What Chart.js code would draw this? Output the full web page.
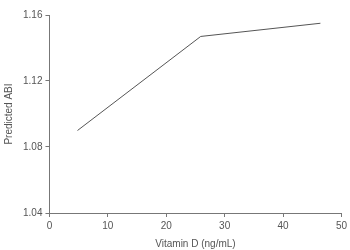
<!DOCTYPE html>
<html>
<head>
<meta charset="utf-8">
<script src="https://cdn.jsdelivr.net/npm/chart.js@4/dist/chart.umd.min.js"></script>
<style>
  html, body { margin: 0; padding: 0; background: #fff; }
  #wrap { width: 350px; height: 250px; }
</style>
</head>
<body>
<div id="wrap"><canvas id="abiChart"></canvas></div>
<script>
// vitamin D values along the fitted line and the predicted ABI at each
const vitaminD = [4.8, 25.9, 46.4];
const predictedABI = [1.090, 1.147, 1.155];
const xTicks = [0, 10, 20, 30, 40, 50];
const yTicks = [1.04, 1.08, 1.12, 1.16];

const axisGrey = '#777';
const textGrey = '#555';
const font = { family: 'Liberation Sans', size: 10 };

const points = vitaminD.map((v, i) => ({ x: v, y: predictedABI[i] }));

new Chart(document.getElementById('abiChart'), {
    type: 'scatter',
    data: {
        datasets: [{
            data: points,
            showLine: true,
            borderColor: '#555',
            borderWidth: 1,
            pointRadius: 0,
            fill: false
        }]
    },
    options: {
        responsive: true,
        maintainAspectRatio: false,
        animation: false,
        layout: { padding: { top: 15, right: 1, left: 3, bottom: 0 } },
        plugins: {
            legend: { display: false },
            tooltip: { enabled: false }
        },
        scales: {
            x: {
                min: 0,
                max: 50,
                afterBuildTicks: axis => { axis.ticks = xTicks.map(v => ({ value: v })); },
                grid: { drawOnChartArea: false, color: axisGrey, tickLength: 4 },
                border: { color: axisGrey, width: 1 },
                ticks: { color: textGrey, font: font, padding: 3, maxRotation: 0 },
                title: { display: true, text: 'Vitamin D (ng/mL)', color: textGrey, font: font, padding: { top: 3, bottom: 0 } }
            },
            y: {
                min: 1.04,
                max: 1.16,
                afterBuildTicks: axis => { axis.ticks = yTicks.map(v => ({ value: v })); },
                grid: { drawOnChartArea: false, color: axisGrey, tickLength: 4 },
                border: { color: axisGrey, width: 1 },
                ticks: { color: textGrey, font: font, padding: 3, callback: v => v.toFixed(2) },
                title: { display: true, text: 'Predicted ABI', color: textGrey, font: font, padding: { top: 0, bottom: 5 } }
            }
        }
    }
});
</script>
</body>
</html>
